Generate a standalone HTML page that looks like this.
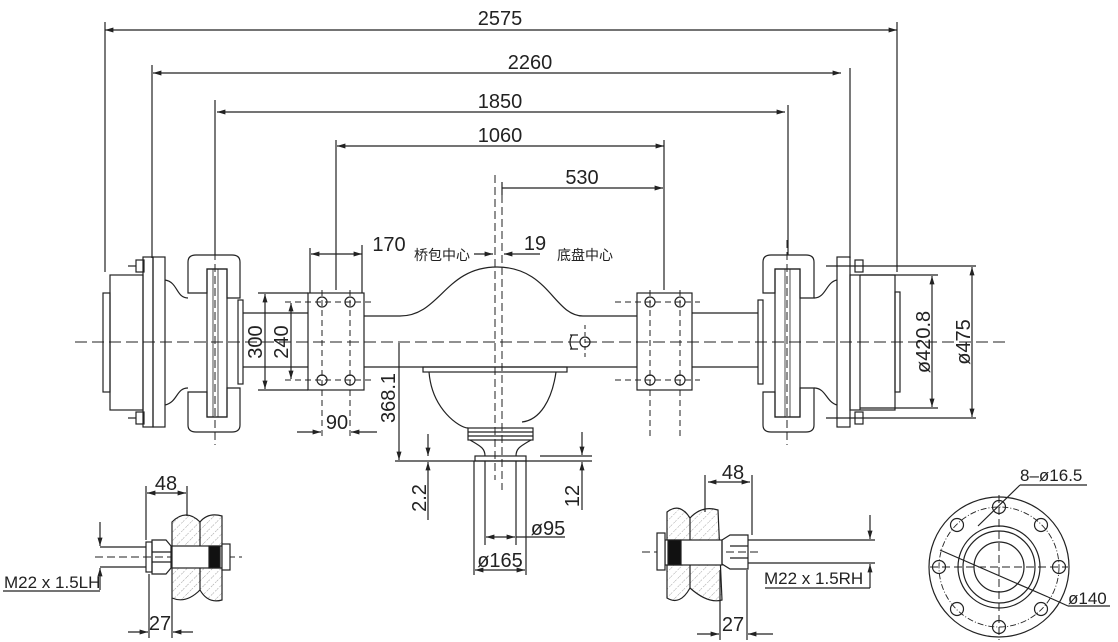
<!DOCTYPE html>
<html><head><meta charset="utf-8"><style>
html,body{margin:0;padding:0;background:#fff;}
svg{display:block;}
text{font-family:"Liberation Sans","Noto Sans CJK SC",sans-serif;fill:#222;}
</style></head><body>
<svg width="1118" height="642" viewBox="0 0 1118 642" xmlns="http://www.w3.org/2000/svg">
<defs>
<marker id="a" viewBox="0 0 10 10" refX="10" refY="5" markerWidth="7" markerHeight="7" orient="auto-start-reverse"><path d="M0,2 L10,5 L0,8 z" fill="#222"/></marker>
<pattern id="h" width="6" height="6" patternUnits="userSpaceOnUse" patternTransform="rotate(45)"><line x1="0" y1="0" x2="0" y2="6" stroke="#888" stroke-width="0.8" stroke-dasharray="2 1.5"/></pattern>
</defs>
<g stroke="#222" stroke-width="1.2" fill="none">
<line x1="105" y1="30" x2="897" y2="30" marker-start="url(#a)" marker-end="url(#a)"/>
<line x1="105" y1="22" x2="105" y2="272"/><line x1="897" y1="22" x2="897" y2="272"/>
<line x1="153" y1="73" x2="841" y2="73" marker-start="url(#a)" marker-end="url(#a)"/>
<line x1="152" y1="65" x2="152" y2="258"/><line x1="850" y1="68" x2="850" y2="258"/>
<line x1="217" y1="112" x2="785" y2="112" marker-start="url(#a)" marker-end="url(#a)"/>
<line x1="215" y1="100" x2="215" y2="255"/><line x1="788" y1="105" x2="788" y2="255"/>
<line x1="337" y1="146" x2="664" y2="146" marker-start="url(#a)" marker-end="url(#a)"/>
<line x1="336" y1="140" x2="336" y2="290"/><line x1="664" y1="140" x2="664" y2="290"/>
<line x1="502" y1="188" x2="663" y2="188" marker-end="url(#a)"/>
<line x1="502" y1="182" x2="502" y2="195"/>
<line x1="310" y1="248" x2="310" y2="293"/>
<line x1="311" y1="254" x2="362" y2="254" marker-start="url(#a)" marker-end="url(#a)"/>
<line x1="362" y1="245" x2="362" y2="293"/>
<line x1="474" y1="254" x2="493" y2="254" marker-end="url(#a)"/>
<line x1="540" y1="254" x2="504" y2="254" marker-end="url(#a)"/>
<line x1="75" y1="342" x2="1010" y2="342" stroke-dasharray="12 5" stroke-width="1"/>
<line x1="495" y1="175" x2="495" y2="480" stroke-dasharray="8 4" stroke-width="1"/>
<line x1="502" y1="195" x2="502" y2="490" stroke-dasharray="8 4" stroke-width="1"/>
<line x1="215" y1="240" x2="215" y2="445" stroke-dasharray="8 4" stroke-width="1"/>
<line x1="787" y1="240" x2="787" y2="445" stroke-dasharray="8 4" stroke-width="1"/>
<rect x="103" y="293" width="7" height="99"/>
<rect x="110" y="275" width="33" height="135"/>
<rect x="143" y="257" width="10" height="170"/>
<rect x="153" y="257" width="12" height="170"/>
<rect x="136" y="260" width="8" height="12"/><rect x="136" y="412" width="8" height="12"/>
<line x1="128" y1="266" x2="136" y2="266"/><line x1="128" y1="418" x2="136" y2="418"/>
<path d="M165,280 C178,282 176,298 188,298 M165,405 C178,402 176,388 188,388"/>
<path d="M207,269 L207,293 L188,293 L188,262 Q188,255 196,255 L232,255 Q240,255 240,262 L240,298 L227,298 L227,269 Z"/>
<path d="M207,417 L207,392 L188,392 L188,425 Q188,432 196,432 L232,432 Q240,432 240,425 L240,388 L227,388 L227,417 Z"/>
<rect x="207" y="269" width="20" height="148"/>
<line x1="213" y1="269" x2="213" y2="417" stroke-width="0.8"/><line x1="218" y1="269" x2="218" y2="417" stroke-width="0.8"/>
<rect x="238" y="300" width="5" height="84"/>
<line x1="243" y1="313" x2="308" y2="313"/><line x1="243" y1="367" x2="308" y2="367"/>
<rect x="308" y="293" width="56" height="97"/>
<circle cx="322" cy="302" r="5"/><circle cx="350" cy="302" r="5"/>
<circle cx="322" cy="380" r="5"/><circle cx="350" cy="380" r="5"/>
<line x1="322" y1="290" x2="322" y2="440" stroke-dasharray="6 4" stroke-width="1"/>
<line x1="350" y1="290" x2="350" y2="440" stroke-dasharray="6 4" stroke-width="1"/>
<line x1="285" y1="302" x2="372" y2="302" stroke-dasharray="6 4" stroke-width="1"/>
<line x1="285" y1="380" x2="372" y2="380" stroke-dasharray="6 4" stroke-width="1"/>
<line x1="258" y1="293" x2="308" y2="293"/><line x1="258" y1="390" x2="308" y2="390"/>
<line x1="265" y1="294" x2="265" y2="389" marker-start="url(#a)" marker-end="url(#a)"/>
<line x1="291" y1="303" x2="291" y2="379" marker-start="url(#a)" marker-end="url(#a)"/>
<line x1="297" y1="432" x2="321" y2="432" marker-end="url(#a)"/>
<line x1="377" y1="432" x2="351" y2="432" marker-end="url(#a)"/>
<path d="M364,316 L400,316 C440,316 445,267 497,267 C549,267 554,316 583,316 L637,316"/>
<line x1="364" y1="367" x2="637" y2="367"/>
<rect x="423" y="367" width="144" height="5"/>
<path d="M429,372 C432,410 460,428 468,428 M556,372 C552,400 540,420 522,422"/>
<rect x="468" y="428" width="65" height="12"/>
<line x1="468" y1="432" x2="533" y2="432"/><line x1="468" y1="436" x2="533" y2="436"/>
<path d="M470,440 C480,446 485,448 485,456 M531,440 C521,446 516,448 516,456"/>
<rect x="475" y="456" width="51" height="5"/>
<circle cx="585" cy="342" r="5"/>
<path d="M570,335 L578,335 M570,349 L578,349 M572,335 Q568,342 572,349"/>
<line x1="585" y1="325" x2="585" y2="360" stroke-dasharray="4 3" stroke-width="1"/>
<rect x="637" y="293" width="55" height="97"/>
<circle cx="650" cy="302" r="5"/><circle cx="680" cy="302" r="5"/>
<circle cx="650" cy="380" r="5"/><circle cx="680" cy="380" r="5"/>
<line x1="650" y1="290" x2="650" y2="440" stroke-dasharray="6 4" stroke-width="1"/>
<line x1="680" y1="290" x2="680" y2="440" stroke-dasharray="6 4" stroke-width="1"/>
<line x1="615" y1="302" x2="700" y2="302" stroke-dasharray="6 4" stroke-width="1"/>
<line x1="615" y1="380" x2="700" y2="380" stroke-dasharray="6 4" stroke-width="1"/>
<line x1="692" y1="313" x2="758" y2="313"/><line x1="692" y1="367" x2="758" y2="367"/>
<rect x="758" y="300" width="5" height="84"/>
<path d="M775,269 L775,293 L763,293 L763,262 Q763,255 771,255 L806,255 Q814,255 814,262 L814,298 L800,298 L800,269 Z"/>
<path d="M775,417 L775,392 L763,392 L763,425 Q763,432 771,432 L806,432 Q814,432 814,425 L814,388 L800,388 L800,417 Z"/>
<rect x="775" y="269" width="25" height="148"/>
<line x1="785" y1="269" x2="785" y2="417" stroke-width="0.8"/><line x1="790" y1="269" x2="790" y2="417" stroke-width="0.8"/>
<path d="M814,298 C826,298 826,282 837,280 M814,388 C826,388 826,402 837,405"/>
<rect x="837" y="257" width="13" height="170"/>
<rect x="850" y="275" width="45" height="135"/>
<line x1="860" y1="275" x2="860" y2="410"/>
<rect x="895" y="292" width="5" height="100"/>
<rect x="855" y="260" width="8" height="12"/><rect x="855" y="412" width="8" height="12"/>
<line x1="826" y1="266" x2="976" y2="266"/><line x1="826" y1="418" x2="976" y2="418"/>
<line x1="860" y1="275" x2="938" y2="275"/><line x1="860" y1="408" x2="938" y2="408"/>
<line x1="932" y1="276" x2="932" y2="407" marker-start="url(#a)" marker-end="url(#a)"/>
<line x1="972" y1="267" x2="972" y2="417" marker-start="url(#a)" marker-end="url(#a)"/>
<line x1="399" y1="343" x2="399" y2="460" marker-end="url(#a)"/>
<line x1="395" y1="461" x2="592" y2="461"/>
<line x1="428" y1="434" x2="428" y2="456" marker-end="url(#a)"/>
<line x1="428" y1="520" x2="428" y2="462" marker-end="url(#a)"/>
<line x1="582" y1="432" x2="582" y2="455" marker-end="url(#a)"/>
<line x1="582" y1="510" x2="582" y2="462" marker-end="url(#a)"/>
<line x1="540" y1="456" x2="592" y2="456"/>
<line x1="474" y1="461" x2="474" y2="575"/><line x1="526" y1="461" x2="526" y2="575"/>
<line x1="485" y1="461" x2="485" y2="545"/><line x1="516" y1="461" x2="516" y2="545"/>
<line x1="475" y1="570" x2="525" y2="570" marker-start="url(#a)" marker-end="url(#a)"/>
<line x1="486" y1="537" x2="515" y2="537" marker-start="url(#a)" marker-end="url(#a)"/>
<line x1="516" y1="537" x2="565" y2="537"/>
<line x1="95" y1="557" x2="242" y2="557" stroke-dasharray="8 4" stroke-width="1"/>
<line x1="100" y1="547" x2="146" y2="547"/><line x1="100" y1="567" x2="146" y2="567"/>
<line x1="100" y1="522" x2="100" y2="546" marker-end="url(#a)"/>
<line x1="100" y1="590" x2="100" y2="568" marker-end="url(#a)"/>
<line x1="3" y1="591" x2="100" y2="591"/>
<rect x="146" y="542" width="6" height="30"/>
<path d="M152,540 L166,540 L171,546 L171,568 L166,574 L152,574 Z"/>
<line x1="152" y1="552" x2="171" y2="552"/><line x1="152" y1="562" x2="171" y2="562"/>
<path d="M172,522 Q186,508 200,522 Q208,512 222,516 L222,600 Q208,604 200,590 Q186,604 172,598 Z" fill="url(#h)"/>
<line x1="200" y1="522" x2="200" y2="590"/>
<rect x="172" y="546" width="50" height="22" fill="#fff"/>
<rect x="209" y="546" width="11" height="22" fill="#111"/>
<rect x="222" y="544" width="8" height="26" fill="#fff"/>
<line x1="146" y1="486" x2="146" y2="540"/><line x1="187" y1="486" x2="187" y2="516"/>
<line x1="147" y1="493" x2="186" y2="493" marker-start="url(#a)" marker-end="url(#a)"/>
<line x1="149" y1="574" x2="149" y2="638"/><line x1="172" y1="598" x2="172" y2="638"/>
<line x1="128" y1="632" x2="148" y2="632" marker-end="url(#a)"/>
<line x1="193" y1="632" x2="173" y2="632" marker-end="url(#a)"/>
<line x1="642" y1="552" x2="760" y2="552" stroke-dasharray="8 4" stroke-width="1"/>
<line x1="748" y1="540" x2="875" y2="540"/><line x1="748" y1="563" x2="875" y2="563"/>
<line x1="870" y1="515" x2="870" y2="539" marker-end="url(#a)"/>
<line x1="870" y1="588" x2="870" y2="564" marker-end="url(#a)"/>
<line x1="765" y1="588" x2="870" y2="588"/>
<path d="M667,512 Q680,502 690,518 Q702,505 718,510 L722,600 Q708,604 690,588 Q680,606 667,598 Z" fill="url(#h)"/>
<line x1="690" y1="518" x2="690" y2="588"/>
<rect x="665" y="540" width="57" height="25" fill="#fff"/>
<rect x="668" y="540" width="13" height="25" fill="#111"/>
<rect x="657" y="533" width="8" height="37" fill="#fff"/>
<path d="M722,540 L730,535 L748,535 L748,569 L730,569 L722,564 Z"/>
<line x1="730" y1="546" x2="748" y2="546"/><line x1="730" y1="558" x2="748" y2="558"/>
<line x1="705" y1="475" x2="705" y2="512"/><line x1="752" y1="475" x2="752" y2="535"/>
<line x1="708" y1="482" x2="750" y2="482" marker-start="url(#a)" marker-end="url(#a)"/>
<line x1="720" y1="570" x2="720" y2="640"/><line x1="747" y1="570" x2="747" y2="640"/>
<line x1="697" y1="634" x2="719" y2="634" marker-end="url(#a)"/>
<line x1="773" y1="634" x2="748" y2="634" marker-end="url(#a)"/>
<circle cx="999" cy="567" r="70"/>
<circle cx="999" cy="567" r="60" stroke-dasharray="6 2 1 2" stroke-width="0.9"/>
<circle cx="999" cy="567" r="41"/><circle cx="999" cy="567" r="36"/><circle cx="999" cy="567" r="25"/>
<line x1="930" y1="567" x2="1068" y2="567" stroke-dasharray="8 4" stroke-width="1"/>
<line x1="999" y1="495" x2="999" y2="640" stroke-dasharray="8 4" stroke-width="1"/>
<circle cx="999" cy="507" r="6.5"/><circle cx="1041" cy="525" r="6.5"/><circle cx="1059" cy="567" r="6.5"/><circle cx="1041" cy="609" r="6.5"/>
<circle cx="999" cy="627" r="6.5"/><circle cx="957" cy="609" r="6.5"/><circle cx="939" cy="567" r="6.5"/><circle cx="957" cy="525" r="6.5"/>
<line x1="978" y1="526" x2="1020" y2="485"/><line x1="1020" y1="485" x2="1087" y2="485"/>
<line x1="940" y1="550" x2="1048" y2="597"/><line x1="1048" y1="597" x2="1068" y2="606"/><line x1="1068" y1="606" x2="1110" y2="606"/>
</g>
<g font-size="20">
<text x="500" y="25" text-anchor="middle">2575</text>
<text x="530" y="69" text-anchor="middle">2260</text>
<text x="500" y="108" text-anchor="middle">1850</text>
<text x="500" y="142" text-anchor="middle">1060</text>
<text x="582" y="184" text-anchor="middle">530</text>
<text x="389" y="251" text-anchor="middle">170</text>
<text x="535" y="250" text-anchor="middle">19</text>
<text x="337" y="429" text-anchor="middle">90</text>
<text transform="translate(262,342) rotate(-90)" text-anchor="middle">300</text>
<text transform="translate(288,342) rotate(-90)" text-anchor="middle">240</text>
<text transform="translate(395,398) rotate(-90)" text-anchor="middle">368.1</text>
<text transform="translate(426,498) rotate(-90)" text-anchor="middle">2.2</text>
<text transform="translate(579,496) rotate(-90)" text-anchor="middle">12</text>
<text transform="translate(930,342) rotate(-90)" text-anchor="middle">ø420.8</text>
<text transform="translate(970,342) rotate(-90)" text-anchor="middle">ø475</text>
<text x="548" y="535" text-anchor="middle">ø95</text>
<text x="500" y="567" text-anchor="middle">ø165</text>
<text x="166" y="490" text-anchor="middle">48</text>
<text x="160" y="630" text-anchor="middle">27</text>
<text x="733" y="479" text-anchor="middle">48</text>
<text x="733" y="631" text-anchor="middle">27</text>
</g>
<g font-size="17">
<text x="4" y="588">M22 x 1.5LH</text>
<text x="764" y="584">M22 x 1.5RH</text>
<text x="1020" y="481">8–ø16.5</text>
<text x="1068" y="604">ø140</text>
</g>
<text x="414" y="260" font-size="14">桥包中心</text>
<text x="557" y="260" font-size="14">底盘中心</text>
</svg>
</body></html>
